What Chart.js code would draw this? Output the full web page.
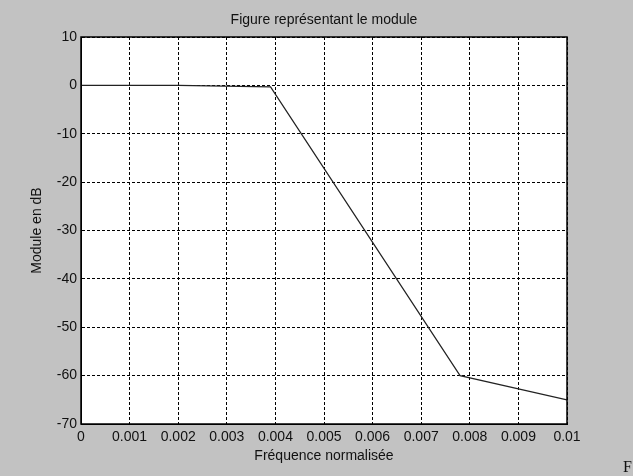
<!DOCTYPE html>
<html>
<head>
<meta charset="utf-8">
<script src="https://cdn.jsdelivr.net/npm/chart.js@4.4.0/dist/chart.umd.min.js"></script>
<style>
  html, body { margin: 0; padding: 0; background: #c2c2c2; }
  #wrap { width: 633px; height: 476px; position: relative; }
</style>
</head>
<body>
<div id="wrap"><canvas id="c" width="633" height="476"></canvas></div>
<script>
// Data
const freq = [0, 0.002, 0.0039, 0.0078, 0.01];
const moduleDb = [0, 0, -0.3, -60, -65];
const xTickLabels = ['0', '0.001', '0.002', '0.003', '0.004', '0.005', '0.006', '0.007', '0.008', '0.009', '0.01'];
const yTickLabels = ['-70', '-60', '-50', '-40', '-30', '-20', '-10', '0', '10'];
const titleText = 'Figure représentant le module';
const xTitle = 'Fréquence normalisée';
const yTitle = 'Module en dB';

const FONT = "'Liberation Sans', Arial, sans-serif";

const bgPlugin = {
  id: 'bg',
  beforeDraw(chart) {
    const { ctx, chartArea: a } = chart;
    ctx.save();
    ctx.fillStyle = '#c2c2c2';
    ctx.fillRect(0, 0, chart.width, chart.height);
    ctx.fillStyle = '#ffffff';
    ctx.fillRect(a.left, a.top, a.right - a.left, a.bottom - a.top);
    ctx.restore();
  },
  afterDraw(chart) {
    const { ctx, chartArea: a } = chart;
    ctx.save();
    ctx.strokeStyle = '#000';
    ctx.lineWidth = 1.5;
    ctx.setLineDash([]);
    ctx.strokeRect(a.left, a.top, a.right - a.left, a.bottom - a.top);
    ctx.fillStyle = '#111';
    ctx.font = '14px ' + FONT;
    ctx.textAlign = 'center';
    ctx.textBaseline = 'middle';
    ctx.fillText(titleText, (a.left + a.right) / 2, 20);
    ctx.font = '16px "Liberation Serif", serif';
    ctx.textAlign = 'left';
    ctx.fillText('F', 623, 468);
    ctx.restore();
  }
};

new Chart(document.getElementById('c'), {
  type: 'line',
  data: {
    datasets: [{
      data: freq.map((f, i) => ({ x: f, y: moduleDb[i] })),
      borderColor: '#222',
      borderWidth: 1.2,
      pointRadius: 0,
      tension: 0,
      fill: false
    }]
  },
  options: {
    responsive: false,
    animation: false,
    devicePixelRatio: 1,
    layout: { padding: { left: 0, right: 66, top: 37, bottom: 0 } },
    plugins: { legend: { display: false }, tooltip: { enabled: false }, title: { display: false } },
    scales: {
      x: {
        type: 'linear',
        min: 0, max: 0.01,
        afterFit(s) { s.height = 52; },
        afterBuildTicks(s) { s.ticks = xTickLabels.map((t, i) => ({ value: i * 0.001 })); },
        ticks: {
          padding: 5,
          color: '#111',
          font: { family: FONT, size: 14 },
          maxRotation: 0,
          autoSkip: false,
          callback: (v, i) => xTickLabels[i]
        },
        grid: { color: '#000', lineWidth: 1, drawTicks: false },
        border: { display: true, color: '#000', width: 1, dash: [3, 2] },
        title: { display: true, text: xTitle, color: '#111', font: { family: FONT, size: 14 }, padding: { top: 0, bottom: 11 } }
      },
      y: {
        type: 'linear',
        min: -70, max: 10,
        afterFit(s) { s.width = 81; },
        afterBuildTicks(s) { s.ticks = yTickLabels.map((t, i) => ({ value: -70 + i * 10 })); },
        ticks: {
          padding: 4,
          color: '#111',
          font: { family: FONT, size: 14 },
          autoSkip: false,
          callback: (v, i) => yTickLabels[i]
        },
        grid: { color: '#000', lineWidth: 1, drawTicks: false },
        border: { display: true, color: '#000', width: 1, dash: [3, 2] },
        title: { display: true, text: yTitle, color: '#111', font: { family: FONT, size: 14 }, padding: { top: 29, bottom: 0 } }
      }
    }
  },
  plugins: [bgPlugin]
});
</script>
</body>
</html>
